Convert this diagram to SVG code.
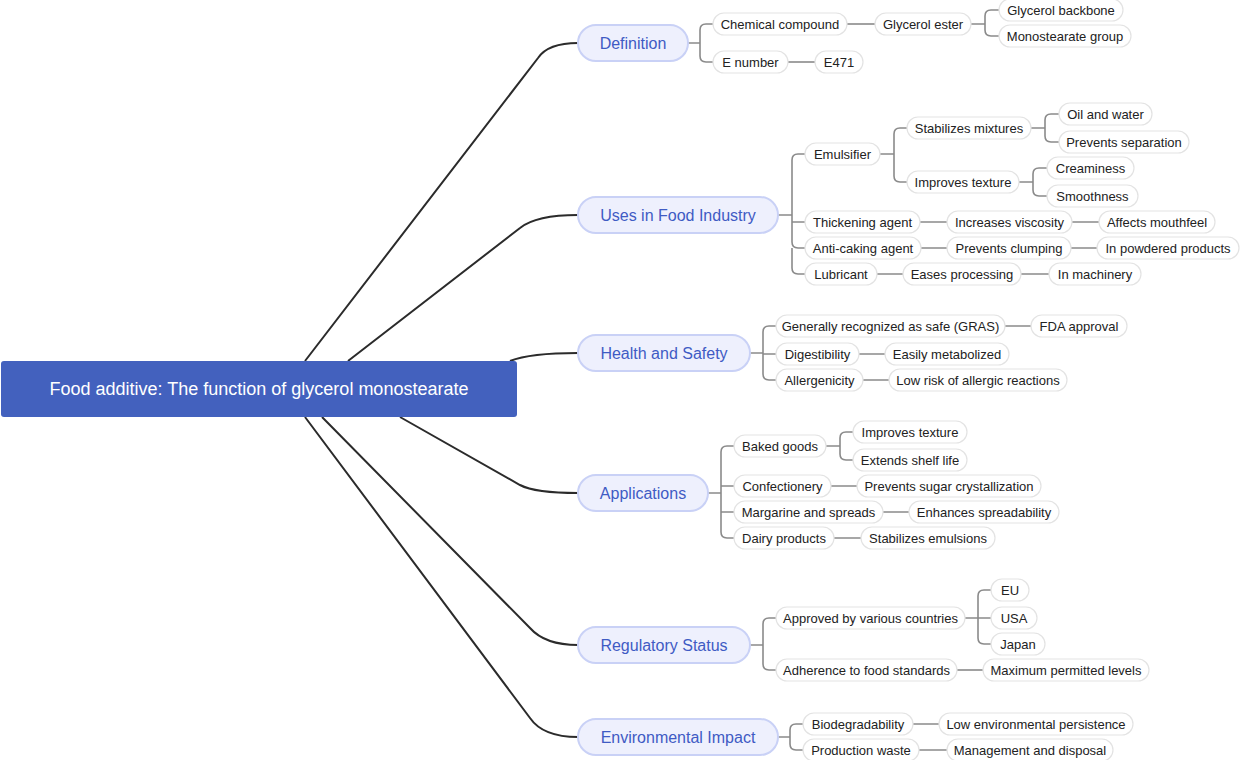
<svg xmlns="http://www.w3.org/2000/svg" width="1240" height="760" viewBox="0 0 1240 760">
<style>
text{font-family:"Liberation Sans",Arial,sans-serif;dominant-baseline:central;text-anchor:middle}
.m{fill:none;stroke:#2b2b2b;stroke-width:2}
.c{fill:none;stroke:#8a8a8a;stroke-width:1.6}
.b rect{fill:#eef0fd;stroke:#c9d1f6;stroke-width:2}
.b text{fill:#3f5bc4;font-size:16px}
.l rect{fill:#fff;stroke:#e3e3e3;stroke-width:1.2}
.l text{fill:#222;font-size:13px}
</style>
<rect width="1240" height="760" fill="#fff"/>
<g id="connectors">
<path class="m" d="M305,361 L538,58 Q548,43 578,43"/>
<path class="m" d="M348,361 L520,228 Q536,215 578,215"/>
<path class="m" d="M510,361 Q530,353 578,353"/>
<path class="m" d="M400,417 L520,485 Q535,493 578,493"/>
<path class="m" d="M322,417 L530,628 Q545,645 578,645"/>
<path class="m" d="M305,417 L530,718 Q543,737 578,737"/>
<!-- Definition -->
<path class="c" d="M688,43 H700 V30 Q700,24 706,24 H713 M700,43 V56 Q700,62 706,62 H713"/>
<path class="c" d="M847,24 H875"/>
<path class="c" d="M971,24 H985 V16 Q985,10 991,10 H999 M985,24 V30 Q985,36 991,36 H999"/>
<path class="c" d="M788,62 H815"/>
<!-- Uses -->
<path class="c" d="M778,215 H792 V160 Q792,154 798,154 H805 M792,215 V222 H805 M792,215 V242 Q792,248 798,248 H805 M792,248 V268 Q792,274 798,274 H805"/>
<path class="c" d="M880,154 H894 V134 Q894,128 900,128 H907 M894,154 V176 Q894,182 900,182 H907"/>
<path class="c" d="M1031,128 H1045 V120 Q1045,114 1051,114 H1059 M1045,128 V136 Q1045,142 1051,142 H1059"/>
<path class="c" d="M1019,182 H1033 V174 Q1033,168 1039,168 H1047 M1033,182 V190 Q1033,196 1039,196 H1047"/>
<path class="c" d="M920,222 H947 M1072,222 H1099 M921,248 H947 M1071,248 H1097 M877,274 H903 M1021,274 H1049"/>
<!-- Health -->
<path class="c" d="M750,353 H763 V332 Q763,326 769,326 H776 M763,353 V354 H776 M763,353 V374 Q763,380 769,380 H776"/>
<path class="c" d="M1005,326 H1031 M859,354 H885 M863,380 H889"/>
<!-- Applications -->
<path class="c" d="M708,493 H721 V452 Q721,446 727,446 H734 M721,493 V486 H734 M721,493 V512 H734 M721,512 V532 Q721,538 727,538 H734"/>
<path class="c" d="M826,446 H840 V438 Q840,432 846,432 H853 M840,446 V454 Q840,460 846,460 H853"/>
<path class="c" d="M831,486 H857 M883,512 H909 M834,538 H861"/>
<!-- Regulatory -->
<path class="c" d="M750,645 H763 V624 Q763,618 769,618 H776 M763,645 V664 Q763,670 769,670 H776"/>
<path class="c" d="M965,618 H978 V596 Q978,590 984,590 H991 M978,618 H991 M978,618 V638 Q978,644 984,644 H991"/>
<path class="c" d="M957,670 H983"/>
<!-- Environmental -->
<path class="c" d="M778,737 H790 V730 Q790,724 796,724 H803 M790,737 V744 Q790,750 796,750 H803"/>
<path class="c" d="M913,724 H939 M919,750 H947"/>
</g>
<g id="root"><rect x="1" y="361" width="516" height="56" rx="3" fill="#4361be"/><text x="259" y="389" fill="#fff" font-size="18">Food additive: The function of glycerol monostearate</text></g>
<g id="b-def" class="b"><rect x="578" y="25" width="110" height="36" rx="18"/><text x="633" y="43">Definition</text></g>
<g id="b-uses" class="b"><rect x="578" y="197" width="200" height="36" rx="18"/><text x="678" y="215">Uses in Food Industry</text></g>
<g id="b-health" class="b"><rect x="578" y="335" width="172" height="36" rx="18"/><text x="664" y="353">Health and Safety</text></g>
<g id="b-app" class="b"><rect x="578" y="475" width="130" height="36" rx="18"/><text x="643" y="493">Applications</text></g>
<g id="b-reg" class="b"><rect x="578" y="627" width="172" height="36" rx="18"/><text x="664" y="645">Regulatory Status</text></g>
<g id="b-env" class="b"><rect x="578" y="719" width="200" height="36" rx="18"/><text x="678" y="737">Environmental Impact</text></g>
<g id="n1" class="l"><rect x="713" y="13" width="134" height="22" rx="11"/><text x="780" y="24">Chemical compound</text></g>
<g id="n2" class="l"><rect x="875" y="13" width="96" height="22" rx="11"/><text x="923" y="24">Glycerol ester</text></g>
<g id="n3" class="l"><rect x="999" y="-1" width="124" height="22" rx="11"/><text x="1061" y="10">Glycerol backbone</text></g>
<g id="n4" class="l"><rect x="999" y="25" width="132" height="22" rx="11"/><text x="1065" y="36">Monostearate group</text></g>
<g id="n5" class="l"><rect x="713" y="51" width="75" height="22" rx="11"/><text x="750.5" y="62">E number</text></g>
<g id="n6" class="l"><rect x="815" y="51" width="48" height="22" rx="11"/><text x="839" y="62">E471</text></g>
<g id="n7" class="l"><rect x="805" y="143" width="75" height="22" rx="11"/><text x="842.5" y="154">Emulsifier</text></g>
<g id="n8" class="l"><rect x="907" y="117" width="124" height="22" rx="11"/><text x="969" y="128">Stabilizes mixtures</text></g>
<g id="n9" class="l"><rect x="1059" y="103" width="93" height="22" rx="11"/><text x="1105.5" y="114">Oil and water</text></g>
<g id="n10" class="l"><rect x="1059" y="131" width="130" height="22" rx="11"/><text x="1124" y="142">Prevents separation</text></g>
<g id="n11" class="l"><rect x="907" y="171" width="112" height="22" rx="11"/><text x="963" y="182">Improves texture</text></g>
<g id="n12" class="l"><rect x="1047" y="157" width="87" height="22" rx="11"/><text x="1090.5" y="168">Creaminess</text></g>
<g id="n13" class="l"><rect x="1047" y="185" width="91" height="22" rx="11"/><text x="1092.5" y="196">Smoothness</text></g>
<g id="n14" class="l"><rect x="805" y="211" width="115" height="22" rx="11"/><text x="862.5" y="222">Thickening agent</text></g>
<g id="n15" class="l"><rect x="947" y="211" width="125" height="22" rx="11"/><text x="1009.5" y="222">Increases viscosity</text></g>
<g id="n16" class="l"><rect x="1099" y="211" width="116" height="22" rx="11"/><text x="1157" y="222">Affects mouthfeel</text></g>
<g id="n17" class="l"><rect x="805" y="237" width="116" height="22" rx="11"/><text x="863" y="248">Anti-caking agent</text></g>
<g id="n18" class="l"><rect x="947" y="237" width="124" height="22" rx="11"/><text x="1009" y="248">Prevents clumping</text></g>
<g id="n19" class="l"><rect x="1097" y="237" width="142" height="22" rx="11"/><text x="1168" y="248">In powdered products</text></g>
<g id="n20" class="l"><rect x="805" y="263" width="72" height="22" rx="11"/><text x="841" y="274">Lubricant</text></g>
<g id="n21" class="l"><rect x="903" y="263" width="118" height="22" rx="11"/><text x="962" y="274">Eases processing</text></g>
<g id="n22" class="l"><rect x="1049" y="263" width="92" height="22" rx="11"/><text x="1095" y="274">In machinery</text></g>
<g id="n23" class="l"><rect x="776" y="315" width="229" height="22" rx="11"/><text x="890.5" y="326">Generally recognized as safe (GRAS)</text></g>
<g id="n24" class="l"><rect x="1031" y="315" width="96" height="22" rx="11"/><text x="1079" y="326">FDA approval</text></g>
<g id="n25" class="l"><rect x="776" y="343" width="83" height="22" rx="11"/><text x="817.5" y="354">Digestibility</text></g>
<g id="n26" class="l"><rect x="885" y="343" width="124" height="22" rx="11"/><text x="947" y="354">Easily metabolized</text></g>
<g id="n27" class="l"><rect x="776" y="369" width="87" height="22" rx="11"/><text x="819.5" y="380">Allergenicity</text></g>
<g id="n28" class="l"><rect x="889" y="369" width="178" height="22" rx="11"/><text x="978" y="380">Low risk of allergic reactions</text></g>
<g id="n29" class="l"><rect x="734" y="435" width="92" height="22" rx="11"/><text x="780" y="446">Baked goods</text></g>
<g id="n30" class="l"><rect x="853" y="421" width="114" height="22" rx="11"/><text x="910" y="432">Improves texture</text></g>
<g id="n31" class="l"><rect x="853" y="449" width="114" height="22" rx="11"/><text x="910" y="460">Extends shelf life</text></g>
<g id="n32" class="l"><rect x="734" y="475" width="97" height="22" rx="11"/><text x="782.5" y="486">Confectionery</text></g>
<g id="n33" class="l"><rect x="857" y="475" width="184" height="22" rx="11"/><text x="949" y="486">Prevents sugar crystallization</text></g>
<g id="n34" class="l"><rect x="734" y="501" width="149" height="22" rx="11"/><text x="808.5" y="512">Margarine and spreads</text></g>
<g id="n35" class="l"><rect x="909" y="501" width="150" height="22" rx="11"/><text x="984" y="512">Enhances spreadability</text></g>
<g id="n36" class="l"><rect x="734" y="527" width="100" height="22" rx="11"/><text x="784" y="538">Dairy products</text></g>
<g id="n37" class="l"><rect x="861" y="527" width="134" height="22" rx="11"/><text x="928" y="538">Stabilizes emulsions</text></g>
<g id="n38" class="l"><rect x="776" y="607" width="189" height="22" rx="11"/><text x="870.5" y="618">Approved by various countries</text></g>
<g id="n39" class="l"><rect x="991" y="579" width="38" height="22" rx="11"/><text x="1010" y="590">EU</text></g>
<g id="n40" class="l"><rect x="991" y="607" width="46" height="22" rx="11"/><text x="1014" y="618">USA</text></g>
<g id="n41" class="l"><rect x="991" y="633" width="54" height="22" rx="11"/><text x="1018" y="644">Japan</text></g>
<g id="n42" class="l"><rect x="776" y="659" width="181" height="22" rx="11"/><text x="866.5" y="670">Adherence to food standards</text></g>
<g id="n43" class="l"><rect x="983" y="659" width="166" height="22" rx="11"/><text x="1066" y="670">Maximum permitted levels</text></g>
<g id="n44" class="l"><rect x="803" y="713" width="110" height="22" rx="11"/><text x="858" y="724">Biodegradability</text></g>
<g id="n45" class="l"><rect x="939" y="713" width="194" height="22" rx="11"/><text x="1036" y="724">Low environmental persistence</text></g>
<g id="n46" class="l"><rect x="803" y="739" width="116" height="22" rx="11"/><text x="861" y="750">Production waste</text></g>
<g id="n47" class="l"><rect x="947" y="739" width="166" height="22" rx="11"/><text x="1030" y="750">Management and disposal</text></g>
</svg>
